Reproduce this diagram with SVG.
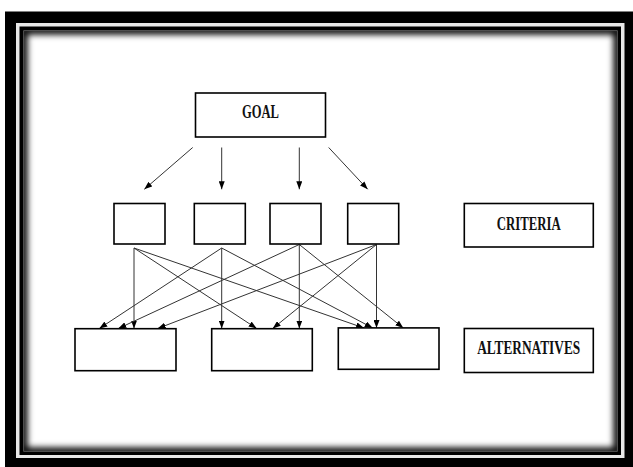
<svg xmlns="http://www.w3.org/2000/svg" width="633" height="467" viewBox="0 0 633 467">
  <style>
    .box { fill: #fff; stroke: #000; stroke-width: 1.6; }
    .lbl { font-family: "Liberation Serif", "Times New Roman", serif; font-weight: bold; font-size: 18px; fill: #111; }
    .con line { stroke: #333; stroke-width: 1; marker-end: url(#ah); }
  </style>
  <defs>
    <marker id="ah" viewBox="0 0 8 6" refX="8" refY="3" markerWidth="8" markerHeight="6" markerUnits="userSpaceOnUse" orient="auto">
      <path d="M0,0 L8,3 L0,6 z" fill="#000"/>
    </marker>
    <clipPath id="inner">
      <rect x="23.5" y="30.5" width="594" height="421"/>
    </clipPath>
    <filter id="blur" x="-5%" y="-5%" width="110%" height="110%">
      <feGaussianBlur stdDeviation="3"/>
    </filter>
  </defs>

  <!-- frame -->
  <g id="frame">
    <rect x="5" y="11.5" width="628" height="455.5" fill="#000"/>
    <rect x="16" y="23" width="608.5" height="435" fill="#e8e8e8"/>
    <rect x="19.5" y="26.5" width="601.5" height="428.5" fill="#000"/>
    <rect x="23.5" y="30.5" width="594" height="421" fill="#fff"/>
    <g clip-path="url(#inner)">
      <rect x="23.5" y="30.5" width="594" height="421" fill="none" stroke="#000" stroke-width="8" filter="url(#blur)"/>
    </g>
  </g>

  <!-- connectors -->
  <g id="connectors" class="con">
    <!-- goal to criteria -->
    <line x1="192.7" y1="147.5" x2="144.3" y2="189.3"/>
    <line x1="221.7" y1="147.5" x2="221.7" y2="189.3"/>
    <line x1="299.3" y1="147.5" x2="299.3" y2="189.3"/>
    <line x1="328.7" y1="147.5" x2="367.7" y2="189.3"/>
    <!-- criterion 1 -->
    <line x1="134" y1="248" x2="134" y2="328.5"/>
    <line x1="134" y1="248" x2="256.7" y2="328.5"/>
    <line x1="134" y1="248" x2="364" y2="328"/>
    <!-- criterion 2 -->
    <line x1="221.7" y1="248" x2="99.3" y2="328.5"/>
    <line x1="221.7" y1="248" x2="221.7" y2="328.5"/>
    <line x1="221.7" y1="248" x2="372.7" y2="328"/>
    <!-- criterion 3 -->
    <line x1="299.3" y1="244.5" x2="118.3" y2="328.5"/>
    <line x1="299.3" y1="244.5" x2="299.3" y2="328.5"/>
    <line x1="299.3" y1="244.5" x2="403.3" y2="328"/>
    <!-- criterion 4 -->
    <line x1="376.5" y1="244.5" x2="157.7" y2="328.5"/>
    <line x1="376.5" y1="244.5" x2="272.7" y2="328.5"/>
    <line x1="376.5" y1="244.5" x2="376.5" y2="328"/>
  </g>

  <!-- nodes -->
  <g id="goal">
    <rect class="box" x="195.5" y="93" width="130" height="44"/>
    <text class="lbl" x="260.5" y="117.5" text-anchor="middle" textLength="37" lengthAdjust="spacingAndGlyphs">GOAL</text>
  </g>
  <g id="criterion1"><rect class="box" x="114" y="203.5" width="51" height="40.5"/></g>
  <g id="criterion2"><rect class="box" x="194.3" y="203.5" width="51" height="40.5"/></g>
  <g id="criterion3"><rect class="box" x="270" y="203.5" width="51" height="40.5"/></g>
  <g id="criterion4"><rect class="box" x="347.7" y="203.5" width="51" height="40.5"/></g>

  <g id="criteria-label">
    <rect class="box" x="464.3" y="203.5" width="129" height="43.5"/>
    <text class="lbl" x="528.8" y="229.5" text-anchor="middle" textLength="64" lengthAdjust="spacingAndGlyphs">CRITERIA</text>
  </g>

  <g id="alternative1"><rect class="box" x="75" y="328.7" width="101" height="42"/></g>
  <g id="alternative2"><rect class="box" x="211.7" y="328.7" width="100.6" height="42"/></g>
  <g id="alternative3"><rect class="box" x="338.3" y="327.9" width="100.7" height="41.4"/></g>

  <g id="alternatives-label">
    <rect class="box" x="464.3" y="328.5" width="129" height="44"/>
    <text class="lbl" x="528.7" y="354" text-anchor="middle" textLength="103" lengthAdjust="spacingAndGlyphs">ALTERNATIVES</text>
  </g>
</svg>
